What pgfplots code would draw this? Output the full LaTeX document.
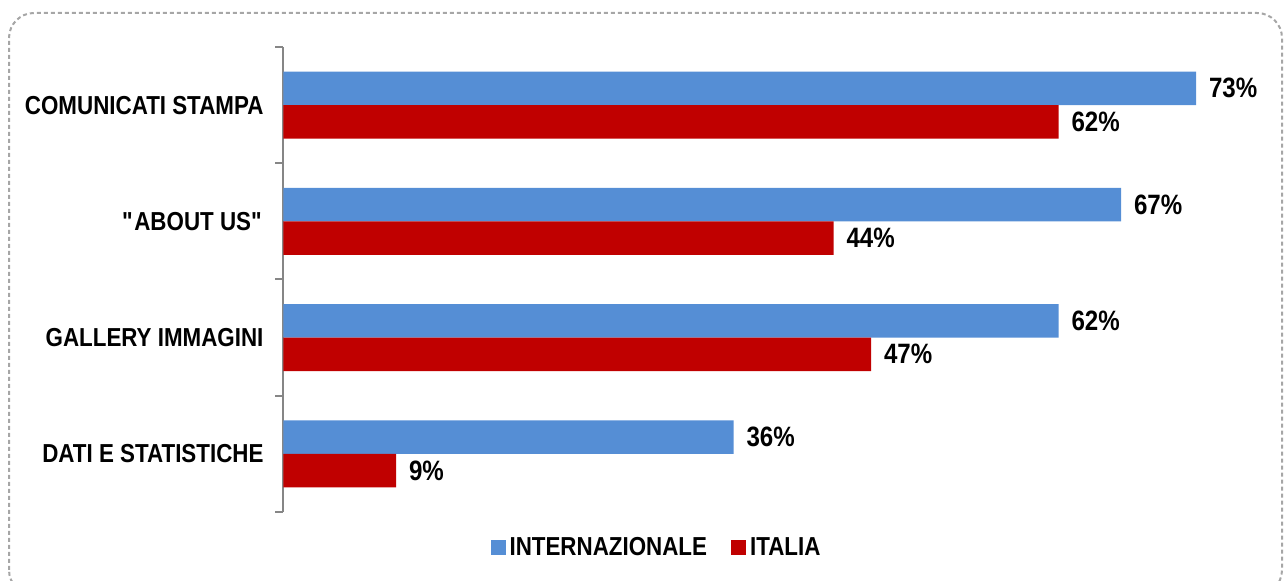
\documentclass[border=0pt]{standalone}
\usepackage{fontspec}
\setmainfont{Liberation Sans}[FakeStretch=0.86]
\usepackage{pgfplots}
\pgfplotsset{compat=1.18}
\definecolor{intblue}{HTML}{558ED5}
\definecolor{itred}{HTML}{C00000}
\definecolor{axgray}{HTML}{868686}
\definecolor{framegray}{HTML}{A6A6A6}
\begin{document}
\begin{tikzpicture}
  \path[use as bounding box] (0,0) rectangle (642pt,290.5pt);
  \draw[framegray, line width=1pt, dash pattern=on 2pt off 1.5pt, rounded corners=12.5pt]
    (4.5pt,-7pt) rectangle (641pt,284pt);
  \begin{axis}[
      at={(141.75pt,34.5pt)}, anchor=south west,
      scale only axis, width=500pt, height=232.5pt,
      xbar, xmin=0, xmax=80, ymin=-0.5, ymax=3.5,
      bar width=0.288,
      axis x line=none, axis y line*=left,
      y axis line style={axgray, line width=1pt},
      ytick={0,1,2,3},
      yticklabels={DATI E STATISTICHE, GALLERY IMMAGINI, \textquotedbl ABOUT US\textquotedbl, COMUNICATI STAMPA},
      major tick length=0pt,
      minor ytick={-0.5,0.5,1.5,2.5,3.5},
      minor tick length=4pt, tick align=outside,
      minor tick style={axgray, line width=1pt},
      yticklabel style={font=\fontsize{13}{15}\selectfont\bfseries, xshift=-6.5pt},
      nodes near coords={\pgfmathprintnumber{\pgfplotspointmeta}\%},
      nodes near coords align=horizontal,
      every node near coord/.append style={font=\fontsize{14}{16}\selectfont\bfseries, black, xshift=3pt},
      /pgf/number format/assume math mode=true,
      legend style={at={(0.374,-0.077)}, anchor=center, draw=none, fill=none,
        font=\fontsize{13}{15}\selectfont\bfseries, legend columns=2,
        /tikz/every even column/.append style={column sep=10pt}},
      legend image code/.code={\fill[#1] (0pt,-3.75pt) rectangle (7.5pt,3.75pt);},
      clip=false,
    ]
    \addplot[fill=intblue, draw=none, bar shift=0.144] coordinates {(36,0) (62,1) (67,2) (73,3)};
    \addlegendentry{INTERNAZIONALE}
    \addplot[fill=itred, draw=none, bar shift=-0.144] coordinates {(9,0) (47,1) (44,2) (62,3)};
    \addlegendentry{ITALIA}
  \end{axis}
\end{tikzpicture}
\end{document}
